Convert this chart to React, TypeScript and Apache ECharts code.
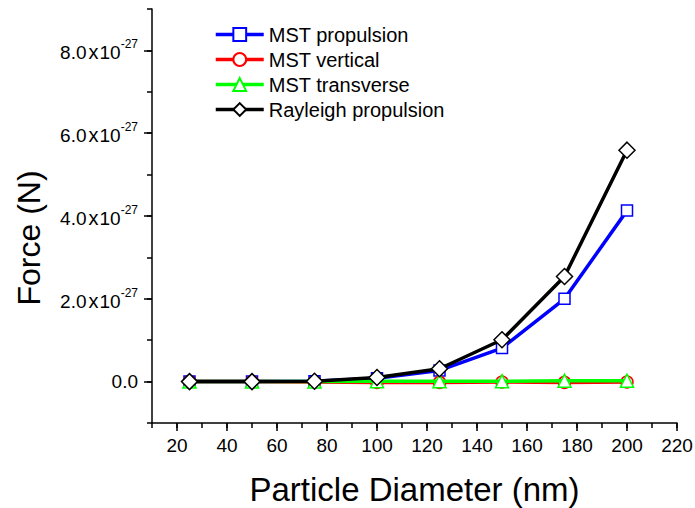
import React, { useEffect, useRef } from "react";
import * as echarts from "echarts";

// Particle diameter (nm)
const diameters = [25, 50, 75, 100, 125, 150, 175, 200];
// Force values in units of 1e-27 N
const mstPropulsion = [0, 0, 0.01, 0.08, 0.27, 0.81, 2.0, 4.13];
const mstVertical = [0, 0, -0.01, -0.02, -0.02, -0.01, -0.02, -0.01];
const mstTransverse = [0, 0, 0, 0.01, 0.01, 0.01, 0.02, 0.02];
const rayleighPropulsion = [0, 0, 0.01, 0.1, 0.31, 1.01, 2.54, 5.59];

// Labelled (major) tick values
const xTickLabels = [20, 40, 60, 80, 100, 120, 140, 160, 180, 200, 220];
const yTickLabels = [0, 2, 4, 6, 8];

const seriesNames = ["MST propulsion", "MST vertical", "MST transverse", "Rayleigh propulsion"];
const seriesColors = ["#0000ff", "#ff0000", "#00ff00", "#000000"];
const seriesSymbols = ["rect", "circle", "triangle", "diamond"];
const seriesSizes = [11, 12, 13, 16];
const seriesValues = [mstPropulsion, mstVertical, mstTransverse, rayleighPropulsion];

const FONT = "'Liberation Sans', Arial, sans-serif";

export default function App() {
  const ref = useRef<HTMLDivElement>(null);
  useEffect(() => {
    if (!ref.current) return;
    const chart = echarts.init(ref.current, null, { renderer: "svg" });
    const axisLine = { show: true, onZero: false, lineStyle: { color: "#000", width: 1.5 } };
    const hiddenLine = { show: false, onZero: false };
    chart.setOption({
      animation: false,
      backgroundColor: "#ffffff",
      textStyle: { fontFamily: FONT },
      grid: {
        left: 152,
        width: 525,
        top: 9,
        height: 414,
        containLabel: false,
        outerBoundsMode: "none",
      },
      legend: {
        orient: "vertical",
        left: 214,
        top: 24,
        padding: 0,
        itemWidth: 48,
        itemHeight: 16,
        itemGap: 4,
        lineStyle: { width: 3.5 },
        textStyle: { fontFamily: FONT, fontSize: 20, color: "#000", lineHeight: 21 },
        data: seriesNames,
      },
      xAxis: [
        {
          type: "value",
          min: 10,
          max: 220,
          interval: 10,
          axisLine,
          axisTick: { inside: false, length: 5, lineStyle: { color: "#000", width: 1.5 } },
          splitLine: { show: false },
          axisLabel: { show: false },
          name: "Particle Diameter (nm)",
          nameLocation: "middle",
          nameGap: 50,
          nameTextStyle: { fontSize: 33, color: "#000", fontFamily: FONT },
        },
        {
          type: "value",
          position: "bottom",
          min: 10,
          max: 220,
          axisLine: hiddenLine,
          axisTick: {
            inside: false,
            length: 8,
            customValues: xTickLabels,
            lineStyle: { color: "#000", width: 1.5 },
          },
          splitLine: { show: false },
          axisLabel: {
            color: "#000",
            fontSize: 19,
            fontFamily: FONT,
            margin: 13,
            customValues: xTickLabels,
            formatter: (v: number) => String(Math.round(v)),
          },
        },
      ],
      yAxis: [
        {
          type: "value",
          min: -1,
          max: 9,
          interval: 1,
          axisLine,
          axisTick: { show: true, inside: false, length: 5, lineStyle: { color: "#000", width: 1.5 } },
          splitLine: { show: false },
          axisLabel: { show: false },
        },
        {
          type: "value",
          position: "left",
          min: -1,
          max: 9,
          axisLine: hiddenLine,
          axisTick: {
            show: true,
            inside: false,
            length: 8,
            customValues: yTickLabels,
            lineStyle: { color: "#000", width: 1.5 },
          },
          splitLine: { show: false },
          axisLabel: {
            margin: 14,
            customValues: yTickLabels,
            formatter: (v: number) => {
              const n = Math.round(v);
              if (n === 0) return "{z|0.0}";
              return `{m|${n.toFixed(1)}}{x|x}{m|10}{s|-27}`;
            },
            rich: {
              z: { fontSize: 19, color: "#000", fontFamily: FONT },
              m: { fontSize: 19, color: "#000", fontFamily: FONT, verticalAlign: "bottom", lineHeight: 24 },
              x: { fontSize: 20, color: "#000", fontFamily: FONT, verticalAlign: "bottom", lineHeight: 24, padding: [0, 1, 0, 2] },
              s: { fontSize: 12, color: "#000", fontFamily: FONT, verticalAlign: "top", lineHeight: 24 },
            },
          },
        },
      ],
      graphic: [
        {
          type: "text",
          x: 29,
          y: 238,
          rotation: Math.PI / 2,
          style: {
            text: "Force (N)",
            fontSize: 32,
            fontFamily: FONT,
            fill: "#000",
            textAlign: "center",
            textVerticalAlign: "middle",
          },
        },
      ],
      series: seriesNames.map((name, i) => ({
        name,
        type: "line",
        xAxisIndex: 0,
        yAxisIndex: 0,
        data: diameters.map((d, j) => [d, seriesValues[i][j]]),
        symbol: seriesSymbols[i],
        symbolSize: seriesSizes[i],
        showAllSymbol: true,
        lineStyle: { color: seriesColors[i], width: 3.5 },
        itemStyle: { color: "#ffffff", borderColor: seriesColors[i], borderWidth: 1.5 },
        z: 2 + i,
      })),
    });
    return () => chart.dispose();
  }, []);
  return <div ref={ref} style={{ width: 695, height: 508, position: "absolute", left: 0, top: 0 }} />;
}
